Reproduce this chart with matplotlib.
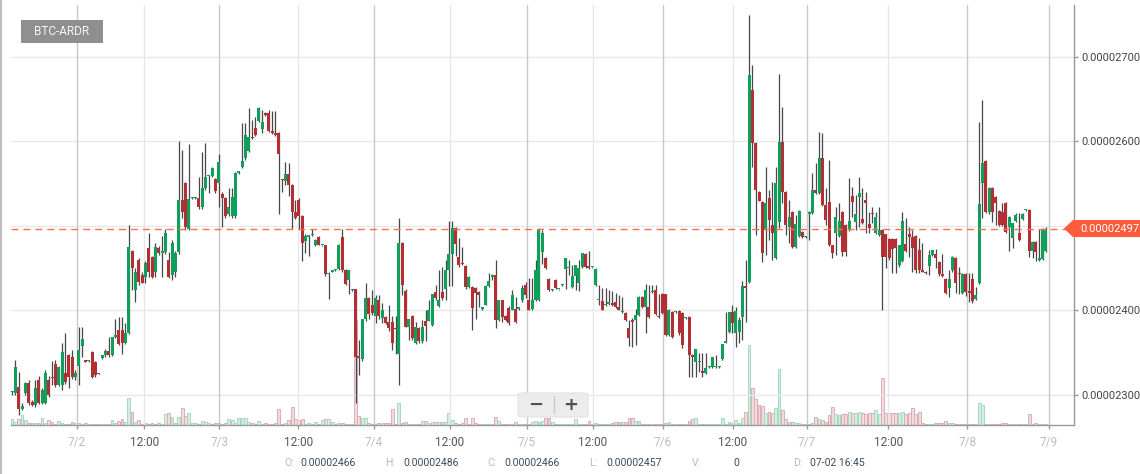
import matplotlib
matplotlib.use("Agg")
import matplotlib.pyplot as plt
import matplotlib.transforms as mtransforms
from matplotlib.patches import Polygon, Rectangle, FancyBboxPatch
from matplotlib.lines import Line2D
import numpy as np

plt.rcParams['font.family'] = ['Roboto', 'DejaVu Sans']

SYMBOL = "BTC-ARDR"
PRICE_UNIT = 1e-8  # prices below are in satoshi (1e-8 BTC)

OPEN = [
    2303, 2302, 2309, 2284, 2302, 2314, 2292, 2288, 2318, 2291,
    2291, 2318, 2321, 2337, 2312, 2312, 2326, 2347, 2345, 2321,
    2334, 2358, 2341, 2340, 2351, 2339, 2326, 2344, 2347, 2352,
    2347, 2369, 2377, 2377, 2362, 2373, 2470, 2424, 2460, 2442,
    2440, 2474, 2463, 2445, 2474, 2468, 2469, 2460, 2442, 2445,
    2469, 2531, 2551, 2497, 2533, 2533, 2533, 2522, 2545, 2559,
    2559, 2556, 2551, 2538, 2533, 2514, 2512, 2512, 2563, 2570,
    2580, 2589, 2605, 2616, 2624, 2615, 2634, 2634, 2612, 2610,
    2610, 2555, 2553, 2562, 2549, 2516, 2531, 2512, 2482, 2487,
    2489, 2478, 2487, 2477, 2477, 2443, 2446, 2448, 2449, 2487,
    2448, 2436, 2424, 2425, 2345, 2343, 2390, 2415, 2406, 2393,
    2412, 2391, 2392, 2386, 2386, 2379, 2349, 2480, 2423, 2381,
    2394, 2362, 2379, 2364, 2388, 2388, 2383, 2422, 2405, 2422,
    2425, 2448, 2467, 2498, 2463, 2456, 2453, 2428, 2428, 2427,
    2422, 2402, 2407, 2429, 2440, 2442, 2389, 2412, 2394, 2403,
    2401, 2402, 2402, 2412, 2430, 2412, 2402, 2412, 2412, 2469,
    2462, 2437, 2424, 2436, 2425, 2430, 2449, 2450, 2428, 2441,
    2432, 2451, 2467, 2453, 2451, 2430, 2412, 2411, 2406, 2408,
    2408, 2410, 2404, 2398, 2397, 2379, 2389, 2389, 2395, 2416,
    2404, 2404, 2422, 2424, 2393, 2419, 2419, 2371, 2398, 2398,
    2399, 2397, 2391, 2392, 2347, 2339, 2339, 2328, 2326, 2333,
    2333, 2333, 2333, 2343, 2362, 2375, 2398, 2373, 2375, 2392,
    2428, 2434, 2661, 2598, 2540, 2528, 2495, 2533, 2501, 2462,
    2505, 2599, 2540, 2499, 2517, 2475, 2488, 2493, 2487, 2514,
    2515, 2543, 2539, 2580, 2525, 2528, 2477, 2492, 2488, 2517,
    2501, 2495, 2535, 2505, 2534, 2508, 2531, 2502, 2515, 2492,
    2489, 2495, 2490, 2485, 2485, 2485, 2454, 2459, 2479, 2490,
    2487, 2488, 2472, 2448, 2446, 2453, 2466, 2467, 2457, 2443,
    2437, 2427, 2448, 2462, 2444, 2421, 2443, 2422, 2437, 2414,
    2432, 2551, 2577, 2516, 2545, 2534, 2518, 2516, 2527, 2499,
    2486, 2506, 2492, 2508, 2519, 2519, 2470, 2481, 2460, 2461, 2470,
]
HIGH = [
    2305, 2341, 2327, 2291, 2315, 2318, 2294, 2318, 2322, 2308,
    2330, 2322, 2340, 2342, 2334, 2361, 2373, 2348, 2353, 2330,
    2380, 2380, 2342, 2341, 2352, 2340, 2326, 2347, 2355, 2369,
    2369, 2390, 2392, 2392, 2385, 2501, 2472, 2450, 2462, 2446,
    2458, 2492, 2465, 2480, 2476, 2488, 2496, 2469, 2484, 2470,
    2600, 2590, 2552, 2597, 2534, 2534, 2558, 2588, 2598, 2560,
    2570, 2557, 2585, 2540, 2534, 2545, 2545, 2564, 2564, 2622,
    2622, 2640, 2625, 2629, 2641, 2637, 2635, 2637, 2636, 2636,
    2611, 2556, 2576, 2575, 2550, 2531, 2533, 2513, 2491, 2489,
    2497, 2485, 2488, 2478, 2478, 2445, 2447, 2449, 2479, 2497,
    2449, 2448, 2425, 2426, 2365, 2390, 2433, 2416, 2424, 2418,
    2418, 2409, 2393, 2407, 2393, 2393, 2510, 2481, 2426, 2390,
    2395, 2386, 2380, 2389, 2400, 2413, 2420, 2430, 2448, 2452,
    2460, 2506, 2506, 2499, 2486, 2475, 2454, 2441, 2429, 2428,
    2423, 2403, 2430, 2444, 2443, 2460, 2413, 2413, 2395, 2405,
    2424, 2416, 2403, 2430, 2434, 2438, 2438, 2460, 2498, 2495,
    2463, 2438, 2425, 2437, 2426, 2431, 2462, 2460, 2454, 2454,
    2460, 2468, 2468, 2470, 2452, 2450, 2430, 2427, 2427, 2424,
    2423, 2421, 2418, 2416, 2398, 2389, 2391, 2402, 2417, 2417,
    2431, 2430, 2430, 2430, 2419, 2421, 2420, 2402, 2399, 2399,
    2400, 2398, 2392, 2393, 2348, 2355, 2350, 2350, 2350, 2334,
    2345, 2347, 2334, 2360, 2398, 2398, 2406, 2404, 2392, 2435,
    2460, 2750, 2690, 2599, 2541, 2529, 2570, 2543, 2552, 2570,
    2680, 2641, 2541, 2531, 2518, 2513, 2519, 2494, 2488, 2518,
    2563, 2574, 2611, 2610, 2545, 2578, 2478, 2522, 2527, 2518,
    2502, 2557, 2546, 2537, 2558, 2545, 2540, 2517, 2522, 2517,
    2522, 2496, 2491, 2486, 2486, 2486, 2478, 2517, 2509, 2499,
    2495, 2489, 2486, 2480, 2447, 2472, 2472, 2473, 2458, 2467,
    2438, 2448, 2464, 2463, 2451, 2444, 2444, 2444, 2444, 2428,
    2623, 2649, 2578, 2546, 2546, 2535, 2519, 2527, 2528, 2512,
    2504, 2515, 2515, 2515, 2520, 2520, 2482, 2482, 2497, 2498, 2499,
]
LOW = [
    2300, 2300, 2276, 2282, 2300, 2288, 2287, 2286, 2289, 2289,
    2289, 2298, 2312, 2310, 2311, 2306, 2313, 2308, 2319, 2318,
    2312, 2345, 2339, 2339, 2320, 2321, 2325, 2343, 2345, 2345,
    2346, 2368, 2359, 2349, 2360, 2372, 2424, 2410, 2430, 2432,
    2432, 2440, 2438, 2440, 2466, 2440, 2467, 2438, 2436, 2440,
    2467, 2510, 2495, 2495, 2532, 2532, 2520, 2520, 2543, 2539,
    2558, 2539, 2522, 2499, 2510, 2512, 2510, 2510, 2562, 2569,
    2578, 2588, 2603, 2607, 2623, 2610, 2630, 2611, 2609, 2607,
    2514, 2540, 2548, 2535, 2497, 2508, 2497, 2459, 2468, 2464,
    2488, 2476, 2477, 2476, 2441, 2414, 2445, 2447, 2448, 2446,
    2430, 2419, 2423, 2290, 2324, 2340, 2388, 2390, 2395, 2385,
    2390, 2385, 2384, 2376, 2353, 2349, 2312, 2418, 2380, 2365,
    2365, 2360, 2362, 2362, 2364, 2387, 2382, 2413, 2404, 2412,
    2412, 2429, 2429, 2465, 2452, 2454, 2426, 2427, 2377, 2390,
    2404, 2401, 2406, 2428, 2436, 2379, 2388, 2386, 2388, 2383,
    2400, 2385, 2401, 2410, 2415, 2400, 2400, 2411, 2411, 2455,
    2449, 2423, 2423, 2426, 2424, 2429, 2425, 2442, 2427, 2424,
    2423, 2450, 2450, 2449, 2450, 2429, 2406, 2400, 2405, 2407,
    2405, 2403, 2400, 2397, 2388, 2358, 2357, 2359, 2394, 2403,
    2373, 2391, 2421, 2395, 2391, 2396, 2370, 2370, 2367, 2397,
    2371, 2356, 2390, 2321, 2321, 2321, 2327, 2321, 2325, 2332,
    2332, 2332, 2332, 2342, 2361, 2373, 2373, 2357, 2362, 2365,
    2386, 2433, 2570, 2489, 2529, 2457, 2466, 2483, 2460, 2461,
    2498, 2527, 2489, 2480, 2474, 2474, 2487, 2486, 2486, 2483,
    2514, 2538, 2538, 2524, 2501, 2476, 2462, 2466, 2487, 2464,
    2464, 2494, 2511, 2495, 2499, 2502, 2492, 2492, 2503, 2491,
    2488, 2401, 2450, 2460, 2444, 2444, 2451, 2457, 2469, 2463,
    2446, 2444, 2444, 2445, 2443, 2442, 2465, 2450, 2441, 2440,
    2419, 2416, 2446, 2421, 2419, 2420, 2417, 2410, 2409, 2413,
    2431, 2509, 2515, 2514, 2505, 2501, 2500, 2500, 2492, 2470,
    2474, 2505, 2482, 2507, 2518, 2463, 2462, 2459, 2459, 2460, 2469,
]
CLOSE = [
    2303, 2333, 2284, 2287, 2314, 2291, 2288, 2308, 2291, 2306,
    2326, 2300, 2320, 2312, 2333, 2351, 2315, 2321, 2321, 2326,
    2353, 2366, 2339, 2340, 2321, 2324, 2325, 2347, 2352, 2347,
    2369, 2370, 2360, 2362, 2373, 2475, 2450, 2445, 2434, 2433,
    2456, 2445, 2440, 2475, 2468, 2470, 2492, 2440, 2480, 2468,
    2531, 2516, 2499, 2532, 2533, 2533, 2522, 2545, 2558, 2559,
    2569, 2541, 2576, 2533, 2512, 2522, 2534, 2563, 2563, 2577,
    2608, 2605, 2604, 2608, 2640, 2623, 2631, 2612, 2610, 2608,
    2585, 2554, 2562, 2549, 2516, 2510, 2512, 2480, 2488, 2489,
    2490, 2484, 2478, 2477, 2443, 2444, 2447, 2448, 2477, 2448,
    2431, 2448, 2424, 2345, 2344, 2390, 2415, 2396, 2397, 2415,
    2394, 2400, 2385, 2379, 2361, 2378, 2480, 2430, 2381, 2390,
    2368, 2380, 2364, 2381, 2382, 2400, 2420, 2415, 2413, 2415,
    2448, 2467, 2498, 2479, 2454, 2455, 2428, 2440, 2403, 2421,
    2418, 2402, 2429, 2435, 2440, 2389, 2412, 2392, 2389, 2385,
    2418, 2386, 2402, 2427, 2418, 2401, 2412, 2448, 2496, 2492,
    2450, 2424, 2424, 2427, 2425, 2430, 2462, 2451, 2441, 2454,
    2450, 2468, 2451, 2450, 2451, 2449, 2412, 2401, 2407, 2408,
    2407, 2404, 2401, 2398, 2389, 2367, 2386, 2395, 2416, 2404,
    2424, 2392, 2423, 2396, 2392, 2397, 2371, 2401, 2369, 2398,
    2373, 2359, 2391, 2347, 2345, 2354, 2340, 2326, 2332, 2333,
    2345, 2333, 2333, 2360, 2363, 2398, 2385, 2399, 2389, 2429,
    2427, 2679, 2598, 2543, 2530, 2468, 2527, 2507, 2492, 2551,
    2599, 2540, 2501, 2511, 2475, 2502, 2518, 2487, 2487, 2517,
    2543, 2539, 2580, 2525, 2507, 2477, 2468, 2511, 2506, 2469,
    2469, 2506, 2528, 2514, 2539, 2503, 2527, 2498, 2514, 2511,
    2495, 2463, 2463, 2462, 2473, 2474, 2477, 2506, 2470, 2487,
    2474, 2448, 2448, 2446, 2444, 2466, 2472, 2462, 2443, 2441,
    2421, 2437, 2463, 2432, 2443, 2443, 2422, 2421, 2411, 2418,
    2526, 2574, 2516, 2545, 2516, 2527, 2501, 2501, 2493, 2511,
    2503, 2513, 2483, 2514, 2519, 2470, 2481, 2469, 2461, 2497, 2497,
]
VOLUME = [
    6, 3, 6, 10, 5, 2, 2, 2, 2, 7,
    2, 5, 3, 1, 4, 2, 1, 1, 3, 2,
    2, 1, 2, 1, 1, 0, 0, 1, 1, 1,
    5, 2, 4, 6, 3, 27, 13, 3, 5, 1,
    2, 1, 2, 1, 2, 1, 11, 12, 8, 2,
    8, 17, 9, 12, 2, 2, 1, 4, 3, 2,
    1, 2, 2, 1, 2, 6, 5, 2, 7, 7,
    7, 3, 2, 1, 4, 1, 2, 1, 1, 2,
    16, 1, 2, 5, 18, 6, 5, 6, 1, 2,
    1, 3, 1, 5, 6, 6, 3, 1, 2, 2,
    1, 1, 1, 105, 9, 7, 7, 2, 1, 1,
    2, 2, 2, 2, 16, 1, 22, 2, 3, 1,
    1, 1, 1, 4, 4, 2, 3, 3, 3, 3,
    3, 12, 5, 2, 1, 2, 7, 1, 7, 2,
    1, 1, 1, 1, 1, 8, 4, 1, 1, 1,
    1, 3, 1, 1, 1, 1, 3, 4, 3, 4,
    7, 7, 3, 1, 1, 1, 1, 1, 1, 6,
    1, 1, 1, 4, 1, 2, 1, 1, 1, 1,
    2, 3, 3, 3, 3, 7, 7, 4, 4, 1,
    1, 1, 1, 1, 1, 1, 2, 3, 1, 1,
    1, 1, 1, 4, 6, 7, 1, 1, 1, 1,
    1, 1, 1, 7, 1, 3, 2, 5, 2, 7,
    13, 80, 37, 26, 20, 19, 12, 13, 12, 17,
    56, 15, 6, 3, 3, 2, 2, 1, 1, 1,
    2, 8, 6, 5, 3, 10, 18, 11, 10, 11,
    11, 13, 12, 12, 13, 12, 11, 12, 12, 15,
    11, 47, 12, 12, 12, 12, 12, 13, 11, 12,
    17, 11, 13, 2, 1, 1, 1, 2, 2, 2,
    4, 2, 2, 1, 1, 1, 1, 1, 1, 1,
    22, 20, 1, 1, 1, 1, 1, 2, 2, 1,
    1, 1, 1, 1, 1, 11, 1, 2, 1, 1, 1,
]

# x-axis labels positioned at candle index
TICK_POS = [19.5, 39.6, 62.1, 85.8, 108.5, 131.3, 154.4, 174.2,
            195.2, 216.2, 238.4, 262.7, 286.4, 310.9]
TICK_LABELS = ["7/2", "12:00", "7/3", "12:00", "7/4", "12:00", "7/5", "12:00",
               "7/6", "12:00", "7/7", "12:00", "7/8", "7/9"]
PRICE_TICKS = [2300, 2400, 2500, 2600, 2700]
LAST_PRICE = 2497
INFO_LABELS = ["O:", "H:", "C:", "L:", "V:", "D:"]
INFO_VALUES = ["0.00002466", "0.00002486", "0.00002466", "0.00002457", "0", "07-02 16:45"]

GREEN = "#0e9f5b"
RED = "#b32f33"
WICK = "#474747"
VOL_UP_FACE, VOL_UP_EDGE = "#d4efe2", "#a9d8bf"
VOL_DN_FACE, VOL_DN_EDGE = "#f3dadd", "#d9b1b6"
TAG = "#ff5b3a"

W, H = 1140, 474
fig = plt.figure(figsize=(W / 100, H / 100), dpi=100)
L, R, T, B = 11, 1074, 5, 425
rect = [L / W, 1 - B / H, (R - L) / W, (B - T) / H]
ax = fig.add_axes(rect)
axv = ax.twinx()
ax.set_zorder(2)
axv.set_zorder(1)
ax.patch.set_visible(False)

o = np.array(OPEN, float)
h = np.array(HIGH, float)
l = np.array(LOW, float)
c = np.array(CLOSE, float)
v = np.array(VOLUME, float)
idx = np.arange(len(o))
up = c >= o

# volume
axv.bar(idx, np.maximum(v, 1), width=0.85, bottom=0,
        color=np.where(up, VOL_UP_FACE, VOL_DN_FACE),
        edgecolor=np.where(up, VOL_UP_EDGE, VOL_DN_EDGE), linewidth=0.7)
axv.set_ylim(0, 420)
axv.set_yticks([])
for s in axv.spines.values():
    s.set_visible(False)

# grid
for p in PRICE_TICKS:
    ax.axhline(p, color="#e8e8ec", lw=1, zorder=0)
for pos, lab in zip(TICK_POS, TICK_LABELS):
    ax.axvline(pos, color="#e6e7ec" if ":" in lab else "#c9c9c9", lw=1, zorder=0)

# candles
ax.vlines(idx, l, h, color=WICK, lw=0.9, zorder=3)
ax.bar(idx, np.maximum(np.abs(c - o), 1.6), bottom=np.minimum(o, c), width=0.9,
       color=np.where(up, GREEN, RED), linewidth=0, zorder=4)

ax.axhline(LAST_PRICE, color="#ff6e4c", lw=1, dashes=(5, 3.6), zorder=5)

ax.set_xlim(-0.3, 318.44)
ax.set_ylim(2264.5, 2761.5)

ax.yaxis.tick_right()
ax.set_yticks(PRICE_TICKS)
ax.set_yticklabels([f"{p * PRICE_UNIT:.8f}" for p in PRICE_TICKS])
ax.tick_params(axis="y", direction="out", length=3, width=1, color="#999999",
               pad=2, labelsize=8, labelcolor="#444444")
ax.set_xticks(TICK_POS)
ax.set_xticklabels(TICK_LABELS)
ax.tick_params(axis="x", direction="out", length=3, width=1, color="#999999",
               pad=5, labelsize=8.5)
for lab in ax.get_xticklabels():
    lab.set_color("#555555" if ":" in lab.get_text() else "#bdbdbd")

for side in ("top", "left"):
    ax.spines[side].set_visible(False)
for side in ("right", "bottom"):
    ax.spines[side].set_color("#9a9a9a")
    ax.spines[side].set_linewidth(1)

# last price tag
tr = mtransforms.blended_transform_factory(fig.transFigure, ax.transData)
hh = 8.5 / 0.845
tag = Polygon([(1064 / W, LAST_PRICE), (1073 / W, LAST_PRICE + hh), (1.0, LAST_PRICE + hh),
               (1.0, LAST_PRICE - hh), (1073 / W, LAST_PRICE - hh)],
              closed=True, transform=tr, facecolor=TAG, edgecolor="none", zorder=10, clip_on=False)
fig.add_artist(tag)
fig.text(1080 / W, LAST_PRICE, f"{LAST_PRICE * PRICE_UNIT:.8f}", transform=tr,
         ha="left", va="center", fontsize=8, color="white", zorder=11)

# symbol badge
fig.add_artist(Rectangle((21 / W, 1 - 43 / H), 82 / W, 23 / H, transform=fig.transFigure,
                         facecolor="#8f8f8f", edgecolor="none", zorder=10))
fig.text(62 / W, 1 - 31.5 / H, SYMBOL, ha="center", va="center", fontsize=8.5,
         color="#f7f7f7", zorder=11)

# zoom widget
fig.add_artist(FancyBboxPatch((518 / W, 1 - 417 / H), 70 / W, 24 / H,
                              boxstyle="round,pad=0,rounding_size=0.004",
                              transform=fig.transFigure, facecolor="#ececec",
                              edgecolor="#e2e2e2", lw=0.8, zorder=10))
fig.add_artist(Line2D([554 / W, 554 / W], [1 - 413 / H, 1 - 396 / H], transform=fig.transFigure,
                      color="#c9c9c9", lw=1, zorder=11))
fig.text(536 / W, 1 - 404.5 / H, "\u2212", ha="center", va="center", fontsize=13,
         fontweight="bold", color="#505050", zorder=11, family="DejaVu Sans")
fig.text(571 / W, 1 - 404.5 / H, "+", ha="center", va="center", fontsize=13,
         fontweight="bold", color="#505050", zorder=11, family="DejaVu Sans")

# info bar
label_x = [284, 385, 487, 589, 692, 793]
value_x = [300, 403, 504, 606, 733, 810]
for lx, vx, lab, val in zip(label_x, value_x, INFO_LABELS, INFO_VALUES):
    fig.text(lx / W, 1 - 463 / H, lab, ha="left", va="center", fontsize=7.5, color="#b8b8b8")
    fig.text(vx / W, 1 - 463 / H, val, ha="left", va="center", fontsize=7.5, color="#3a4b5e")

# left border
fig.add_artist(Line2D([1 / W, 1 / W], [0, 1], transform=fig.transFigure, color="#bdbdbd", lw=1.5))

fig.savefig("out.png", dpi=100, facecolor="white")
